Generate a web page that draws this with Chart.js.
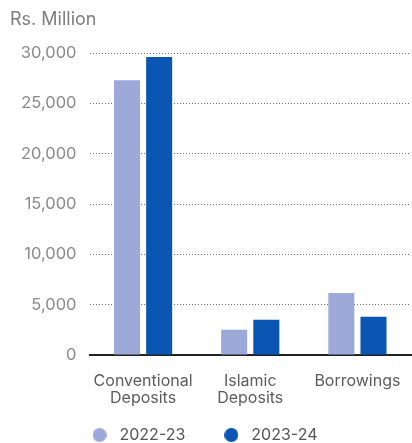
<!DOCTYPE html>
<html>
<head>
<meta charset="utf-8">
<script src="https://cdn.jsdelivr.net/npm/chart.js@4.4.1/dist/chart.umd.min.js"></script>
<style>
  html, body { margin: 0; padding: 0; background: #ffffff; }
  #wrap { width: 412px; height: 443px; position: relative; }
</style>
</head>
<body>
<div id="wrap"><canvas id="chart"></canvas></div>
<script>
// Funding sources, Rs. Million
const categories = [["Conventional", "Deposits"], ["Islamic", "Deposits"], "Borrowings"];
const seriesNames = ["2022-23", "2023-24"];
const values2223 = [27300, 2500, 6150];
const values2324 = [29600, 3500, 3800];
const yTicks = [0, 5000, 10000, 15000, 20000, 25000, 30000];

const colors = ["#9daad9", "#0b56b3"];
const FONT = "Inter, Roboto, 'DejaVu Sans', sans-serif";

// Small round swatch used as the legend marker
function dot(color) {
  const c = document.createElement("canvas");
  c.width = 14; c.height = 14;
  const g = c.getContext("2d");
  g.fillStyle = color;
  g.beginPath();
  g.arc(7, 7, 7, 0, Math.PI * 2);
  g.fill();
  return c;
}

// Legend: wide horizontal spacing between items, compact vertical box
const LEGEND_H = 37;
const LEGEND_SHIFT_Y = 13;
const LEGEND_SHIFT_X = 8;
const legendSpacing = {
  id: "legendSpacing",
  beforeLayout(chart) {
    const lg = chart.legend;
    if (!lg || lg._spaced) return;
    lg._spaced = true;
    const fit = lg.fit;
    lg.fit = function () { fit.call(this); this.height = LEGEND_H; };
    const draw = lg.draw;
    lg.draw = function () {
      const t = this.top, l = this.left, r = this.right;
      this.top = t - LEGEND_SHIFT_Y;
      this.left = l - LEGEND_SHIFT_X;
      this.right = r - LEGEND_SHIFT_X;
      draw.call(this);
      this.top = t; this.left = l; this.right = r;
    };
  }
};

new Chart(document.getElementById("chart"), {
  type: "bar",
  data: {
    labels: categories,
    datasets: [
      { label: seriesNames[0], data: values2223, backgroundColor: colors[0], categoryPercentage: 0.6, barPercentage: 0.81 },
      { label: seriesNames[1], data: values2324, backgroundColor: colors[1], categoryPercentage: 0.6, barPercentage: 0.81 }
    ]
  },
  plugins: [legendSpacing],
  options: {
    responsive: true,
    maintainAspectRatio: false,
    animation: false,
    layout: { padding: { left: 10, right: 1, top: 9, bottom: 0 } },
    plugins: {
      title: {
        display: true,
        text: "Rs. Million",
        align: "start",
        color: "#7d7d7d",
        font: { family: FONT, size: 18, weight: "normal", lineHeight: 1.2 },
        padding: { top: 0, bottom: 22.4 }
      },
      legend: {
        position: "bottom",
        labels: {
          usePointStyle: true,
          pointStyleWidth: 24,
          boxHeight: 14,
          color: "#555555",
          font: { family: FONT, size: 16 },
          padding: 34,
          generateLabels(chart) {
            return Chart.defaults.plugins.legend.labels.generateLabels(chart).map((item, i) => {
              item.pointStyle = dot(colors[i]);
              return item;
            });
          }
        }
      },
      tooltip: { enabled: false }
    },
    scales: {
      x: {
        grid: { display: false, drawTicks: false },
        border: { display: true, color: "#222222", width: 2 },
        afterFit: (scale) => {
          scale.height = 51;
          scale.paddingLeft = 0;
          scale.paddingRight = 0;
        },
        ticks: {
          color: "#5c5c5c",
          font: { family: FONT, size: 16, lineHeight: 1.1 },
          padding: 17,
          maxRotation: 0
        }
      },
      y: {
        min: 0,
        max: 30000,
        afterBuildTicks: (scale) => { scale.ticks = yTicks.map(v => ({ value: v })); },
        afterFit: (scale) => { scale.width = 79.5; },
        grid: { color: "#6e6e6e", lineWidth: 1, drawTicks: false },
        border: { display: false, dash: [1, 2] },
        ticks: {
          color: "#8a8a8a",
          font: { family: FONT, size: 16.5 },
          padding: 13,
          callback: (v) => v.toLocaleString("en-US")
        }
      }
    }
  }
});
</script>
</body>
</html>
